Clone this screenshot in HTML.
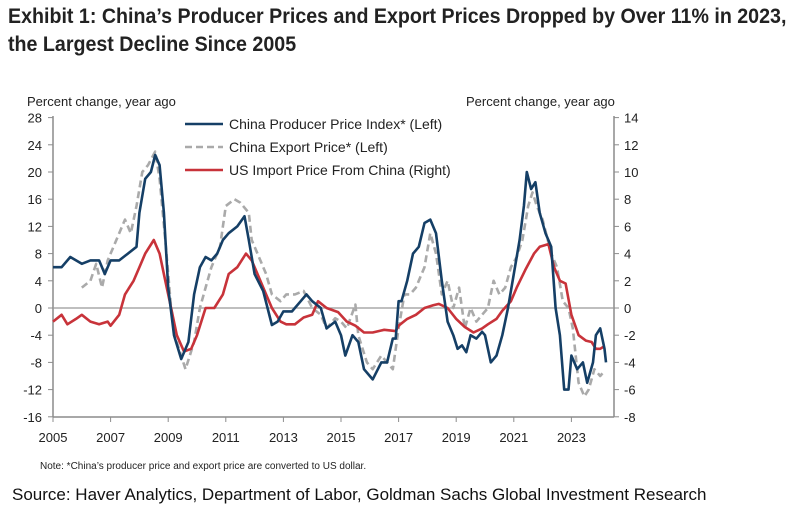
<!DOCTYPE html>
<html><head><meta charset="utf-8"><style>
body{margin:0;background:#fff;width:799px;height:531px;overflow:hidden;font-family:"Liberation Sans",sans-serif}
.t{position:absolute;left:8px;font-family:"Liberation Sans",sans-serif;font-weight:bold;font-size:21px;color:#222;white-space:nowrap;transform:scaleX(0.935);transform-origin:0 0}
</style></head><body>
<div class="t" style="top:5px">Exhibit 1: China’s Producer Prices and Export Prices Dropped by Over 11% in 2023,</div>
<div class="t" style="top:33px">the Largest Decline Since 2005</div>
<svg id="c" width="799" height="531" style="position:absolute;left:0;top:0"></svg>
<div style="position:absolute;left:12px;top:485px;font-family:'Liberation Sans',sans-serif;font-size:17px;color:#111;white-space:nowrap;transform:scaleX(1.0);transform-origin:0 0">Source: Haver Analytics, Department of Labor, Goldman Sachs Global Investment Research</div>
<script>
const ppiT=[2005.0,2005.3,2005.6,2006.0,2006.3,2006.6,2006.8,2007.0,2007.3,2007.6,2007.9,2008.0,2008.2,2008.4,2008.55,2008.7,2008.85,2009.0,2009.2,2009.45,2009.7,2009.9,2010.1,2010.3,2010.5,2010.7,2010.9,2011.1,2011.4,2011.65,2011.8,2012.0,2012.3,2012.6,2012.8,2013.0,2013.3,2013.6,2013.8,2014.0,2014.3,2014.5,2014.8,2015.0,2015.15,2015.4,2015.6,2015.8,2016.0,2016.1,2016.4,2016.6,2016.8,2016.9,2017.0,2017.1,2017.3,2017.5,2017.7,2017.9,2018.1,2018.3,2018.5,2018.7,2018.9,2019.05,2019.2,2019.35,2019.5,2019.7,2019.9,2020.0,2020.2,2020.4,2020.6,2020.8,2021.0,2021.2,2021.35,2021.45,2021.6,2021.75,2021.9,2022.1,2022.3,2022.45,2022.6,2022.75,2022.9,2023.0,2023.2,2023.4,2023.55,2023.75,2023.85,2024.0,2024.15,2024.2];
const ppiV=[6,6,7.5,6.5,7,7,5,7,7,8,9,14,19,20,22.5,21,14,3,-4,-7.5,-5,2,6,7.5,7,8,10,11,12,13.5,10,5,2.5,-2.5,-2,-0.5,-0.5,1,2,1,0,-3,-2,-4,-7,-4,-5,-9,-10,-10.5,-8,-8,-4.5,-4.5,1,1,4,8,9,12.5,13,11,4,-2,-4,-6,-5.5,-6.5,-4,-4.5,-3.5,-4,-8,-7,-4,0,5,10,15,20,17.5,18.5,14,11,9,0,-4,-12,-12,-7,-9,-8,-11,-8,-4,-3,-6,-8];
const expT=[2006.0,2006.3,2006.5,2006.7,2006.9,2007.1,2007.3,2007.5,2007.7,2007.9,2008.1,2008.3,2008.55,2008.7,2008.9,2009.1,2009.3,2009.6,2009.9,2010.1,2010.3,2010.5,2010.8,2011.0,2011.3,2011.5,2011.8,2011.9,2012.1,2012.4,2012.6,2012.9,2013.1,2013.4,2013.7,2014.0,2014.3,2014.5,2014.8,2015.0,2015.2,2015.5,2015.6,2015.9,2016.1,2016.4,2016.6,2016.8,2017.0,2017.2,2017.4,2017.6,2017.9,2018.1,2018.3,2018.5,2018.7,2018.9,2019.1,2019.3,2019.5,2019.7,2019.9,2020.1,2020.3,2020.5,2020.7,2020.9,2021.1,2021.3,2021.5,2021.65,2021.8,2022.0,2022.3,2022.5,2022.7,2022.9,2023.05,2023.25,2023.45,2023.6,2023.8,2024.0,2024.1];
const expV=[3,4,6.5,3,7,9,11,13,11,15,20,21,23,19,10,0,-5,-9,-5,0,3,6,9,15,16,15.5,14,10,8,5,2,1,2,2,2.5,0,-1,-3,-1.5,-2,-3,0.5,-4,-8,-9,-7,-8,-9,-3,2,2,3,6,11,8,2,4,0,3,-3,0,-2,-1,0,4,2,3,6,7.5,10,15,17,15,13,8,6,1,0,-3,-11,-13,-12,-9,-10,-9.5];
const usT=[2005.0,2005.3,2005.5,2005.8,2006.0,2006.3,2006.6,2006.9,2007.0,2007.3,2007.5,2007.8,2008.0,2008.2,2008.5,2008.7,2008.9,2009.1,2009.3,2009.55,2009.8,2010.0,2010.3,2010.6,2010.9,2011.1,2011.4,2011.7,2011.9,2012.1,2012.4,2012.6,2012.9,2013.1,2013.4,2013.7,2014.0,2014.2,2014.5,2014.9,2015.2,2015.5,2015.8,2016.1,2016.5,2016.9,2017.0,2017.3,2017.6,2017.9,2018.2,2018.4,2018.7,2019.0,2019.3,2019.6,2019.9,2020.1,2020.4,2020.6,2020.9,2021.1,2021.4,2021.7,2021.9,2022.2,2022.4,2022.6,2022.8,2023.0,2023.25,2023.5,2023.7,2023.85,2024.0,2024.15];
const usV=[-1,-0.5,-1.2,-0.8,-0.5,-1,-1.2,-1,-1.3,-0.5,1,2,3,4,5,4,2,0,-2,-3.2,-3,-2,0,0,1,2.5,3,4,3.5,2.5,1,0,-1,-1.2,-1.2,-0.7,-0.5,0.5,0,-0.3,-1,-1.3,-1.8,-1.8,-1.6,-1.7,-1.3,-0.8,-0.5,0,0.2,0.3,0,-0.8,-1.4,-1.8,-1.5,-1.2,-0.8,-0.2,0.5,1.5,2.8,4,4.5,4.7,3,2,1.8,-0.5,-2,-2.4,-2.5,-3,-3,-2.8];
const leftTicks=[28,24,20,16,12,8,4,0,-4,-8,-12,-16];
const rightTicks=[14,12,10,8,6,4,2,0,-2,-4,-6,-8];
const yearTicks=[2005,2007,2009,2011,2013,2015,2017,2019,2021,2023];
const NS="http://www.w3.org/2000/svg",svg=document.getElementById('c');
const X=t=>53+(t-2005)*28.8, YL=v=>308-v*6.8, YR=v=>308-v*13.6;
function mk(tag,a,p){const e=document.createElementNS(NS,tag);for(const k in a)e.setAttribute(k,a[k]);(p||svg).appendChild(e);return e;}
function txt(x,y,s,anchor,size,name){const e=mk('text',{x:x,y:y,'text-anchor':anchor,'font-size':size,fill:'#222','font-family':'Liberation Sans, sans-serif'});e.textContent=s;


return e;}
const g='#8c8c8c';
let ax=mk('line',{x1:53,y1:116,x2:53,y2:417,stroke:g,'stroke-width':1.5});


ax=mk('line',{x1:614,y1:116,x2:614,y2:417,stroke:g,'stroke-width':1.5});


ax=mk('line',{x1:53,y1:417,x2:614,y2:417,stroke:g,'stroke-width':1.5});


ax=mk('line',{x1:53,y1:YL(0),x2:614,y2:YL(0),stroke:'#999','stroke-width':1.2});


leftTicks.forEach(v=>{mk('line',{x1:48,y1:YL(v),x2:53,y2:YL(v),stroke:g});txt(42,YL(v)+5,String(v),'end',13,'left-tick-label');});
rightTicks.forEach(v=>{mk('line',{x1:614,y1:YR(v),x2:619,y2:YR(v),stroke:g});txt(624,YR(v)+5,String(v),'start',13,'right-tick-label');});
yearTicks.forEach(y=>{mk('line',{x1:X(y),y1:417,x2:X(y),y2:422,stroke:g});txt(X(y),442,String(y),'middle',13,'x-tick-label');});
txt(27,106,'Percent change, year ago','start',13,'left-axis-title');
txt(466,106,'Percent change, year ago','start',13,'right-axis-title');
function line(T,V,Y,col,dash,name){const d=T.map((t,i)=>(i?'L':'M')+X(t).toFixed(1)+','+Y(V[i]).toFixed(1)).join('');
const p=mk('path',{d:d,fill:'none',stroke:col,'stroke-width':2.6,'stroke-linejoin':'round','stroke-dasharray':dash||'none'});

}
line(expT,expV,YL,'#aaaaaa','7,4','export-price-line');
line(usT,usV,YR,'#c8333a',null,'us-import-price-line');
line(ppiT,ppiV,YL,'#153f66',null,'ppi-line');
[['China Producer Price Index* (Left)','#153f66',null],['China Export Price* (Left)','#aaaaaa','7,4'],['US Import Price From China (Right)','#c8333a',null]].forEach((l,i)=>{
const y=124+i*23;
const s=mk('line',{x1:185,y1:y,x2:223,y2:y,stroke:l[1],'stroke-width':2.6,'stroke-dasharray':l[2]||'none'});


txt(229,y+5,l[0],'start',14,'legend-entry');});
txt(40,469,'Note: *China\u2019s producer price and export price are converted to US dollar.','start',10,'footnote');
</script>
</body></html>
